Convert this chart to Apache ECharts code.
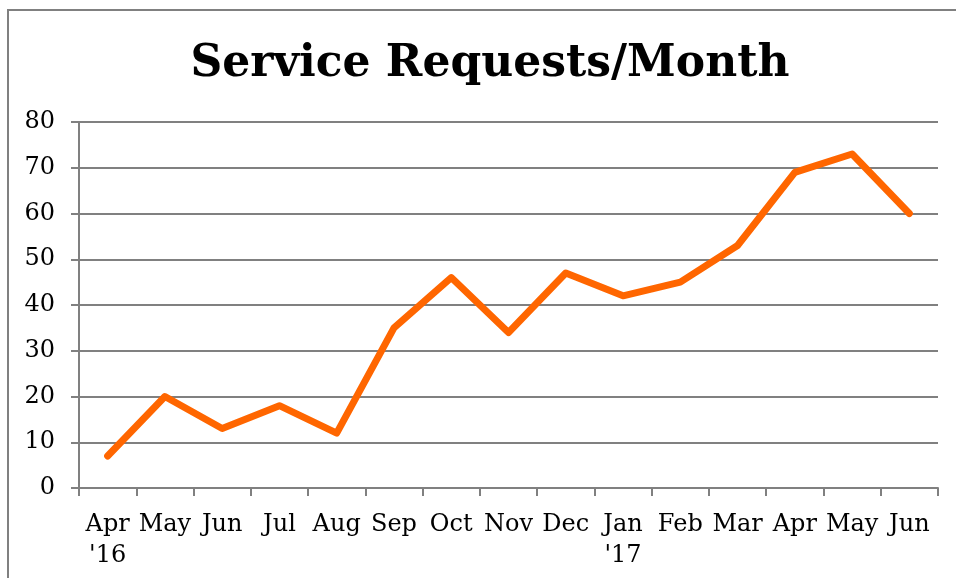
<!DOCTYPE html>
<html lang="en">
<head>
    <meta charset="UTF-8">
    <title>Service Requests/Month</title>
    <style type="text/css">
        html, body {
            margin: 0;
            padding: 0;
            background-color: #ffffff;
        }
        #chart {
            width: 956px;
            height: 578px;
        }
    </style>
</head>
<body>
<div id="chart"></div>
<script src="https://cdn.jsdelivr.net/npm/echarts@6/dist/echarts.min.js"></script>
<script type="text/javascript">
    var months = ["Apr\n'16", 'May', 'Jun', 'Jul', 'Aug', 'Sep', 'Oct', 'Nov', 'Dec', "Jan\n'17", 'Feb', 'Mar', 'Apr', 'May', 'Jun'];
    var requests = [7, 20, 13, 18, 12, 35, 46, 34, 47, 42, 45, 53, 69, 73, 60];

    var gray = '#808080';
    var chart = echarts.init(document.getElementById('chart'));
    chart.setOption({
        animation: false,
        title: {
            text: 'Service Requests/Month',
            left: 485,
            top: 38,
            textAlign: 'center',
            textStyle: {
                fontFamily: 'DejaVu Serif',
                fontWeight: 'bold',
                fontSize: 44,
                color: '#000000'
            }
        },
        graphic: [{
            type: 'rect',
            shape: { x: 8, y: 10, width: 980, height: 600 },
            style: { fill: 'none', stroke: gray, lineWidth: 2 },
            silent: true
        }],
        grid: {
            left: 79,
            right: 18,
            top: 122,
            bottom: 90
        },
        xAxis: {
            type: 'category',
            data: months,
            boundaryGap: true,
            axisLine: { show: true, lineStyle: { color: gray, width: 2 } },
            axisTick: { show: true, interval: 0, length: 8, lineStyle: { color: gray, width: 2 } },
            axisLabel: {
                interval: 0,
                margin: 21,
                fontFamily: 'DejaVu Serif',
                fontSize: 24,
                lineHeight: 31,
                color: '#000000'
            },
            splitLine: { show: false }
        },
        yAxis: {
            type: 'value',
            min: 0,
            max: 80,
            interval: 10,
            axisLine: { show: true, lineStyle: { color: gray, width: 2 } },
            axisTick: { show: true, length: 8, lineStyle: { color: gray, width: 2 } },
            axisLabel: {
                margin: 24,
                fontFamily: 'DejaVu Serif',
                fontSize: 24,
                color: '#000000'
            },
            splitLine: { show: true, lineStyle: { color: gray, width: 2 } }
        },
        series: [{
            type: 'line',
            data: requests,
            symbol: 'none',
            lineStyle: { color: '#ff6600', width: 7, cap: 'round', join: 'round' }
        }]
    });
</script>
</body>
</html>
